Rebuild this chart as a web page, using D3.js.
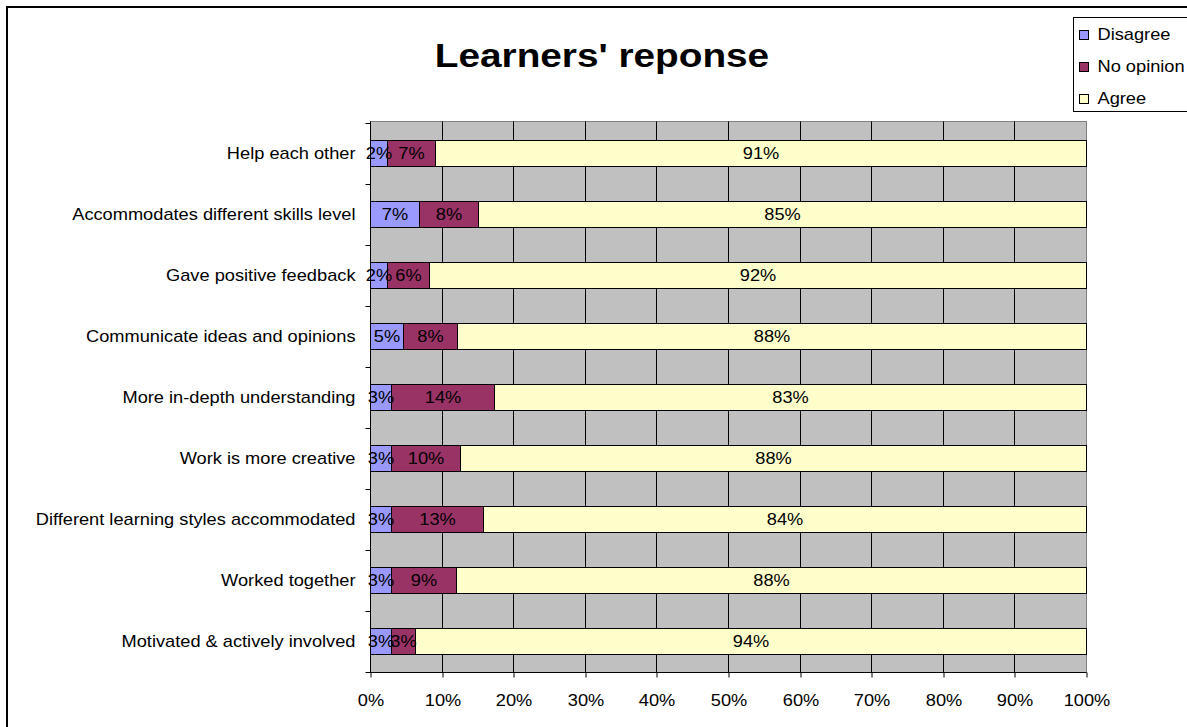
<!DOCTYPE html>
<html>
<head>
<meta charset="utf-8">
<script src="https://cdn.jsdelivr.net/npm/d3@7"></script>
<style>
  html, body { margin: 0; padding: 0; background: #fff; }
  svg { display: block; }
  text { font-family: "Liberation Sans", Arial, sans-serif; fill: #000; }
</style>
</head>
<body>
<svg id="chart" width="1187" height="727"></svg>
<script>
const categories = [
  "Help each other",
  "Accommodates different skills level",
  "Gave positive feedback",
  "Communicate ideas and opinions",
  "More in-depth understanding",
  "Work is more creative",
  "Different learning styles accommodated",
  "Worked together",
  "Motivated & actively involved"
];
const disagree  = [2.4, 6.9, 2.4, 4.6, 2.9, 2.9, 2.9, 2.9, 2.9];
const noOpinion = [6.7, 8.2, 5.8, 7.6, 14.4, 9.6, 12.9, 9.1, 3.4];
const agree     = [90.9, 84.9, 91.8, 87.8, 82.7, 87.5, 84.2, 88.0, 93.7];
const seriesNames = ["Disagree", "No opinion", "Agree"];
const seriesColors = ["#9999FF", "#993366", "#FFFFCC"];
const xTicks = [0, 0.1, 0.2, 0.3, 0.4, 0.5, 0.6, 0.7, 0.8, 0.9, 1.0];
const title = "Learners' reponse";

const SX = 1.14; // horizontal stretch of the text in the reference
const FS = "16px";
const svg = d3.select("#chart");

// outer chart border
svg.append("rect").attr("x", 7).attr("y", 7).attr("width", 1200).attr("height", 760)
  .attr("fill", "#fff").attr("stroke", "#000").attr("stroke-width", 2);

const root = svg.append("g").attr("transform", "translate(0.5,0.5)");

const x = d3.scaleLinear().domain([0, 1]).range([370, 1086]).interpolate(d3.interpolateRound);
const y = d3.scaleBand().domain(categories).range([121, 672])
  .paddingInner(0.575).paddingOuter(0.2875).round(true);
const y0 = y.range()[0], y1 = y.range()[1];

// plot background
root.append("rect").attr("x", x(0)).attr("y", y0).attr("width", x(1) - x(0)).attr("height", y1 - y0)
  .attr("fill", "#C0C0C0").attr("stroke", "#808080");

// vertical gridlines
root.append("g").selectAll("line").data(xTicks.slice(1, -1)).join("line")
  .attr("x1", d => x(d)).attr("x2", d => x(d)).attr("y1", y0).attr("y2", y1)
  .attr("stroke", "#000");

// stacked bars
const rows = categories.map((c, i) => ({cat: c, "Disagree": disagree[i], "No opinion": noOpinion[i], "Agree": agree[i]}));
const stacked = d3.stack().keys(seriesNames).offset(d3.stackOffsetExpand)(rows);

const layers = root.append("g").selectAll("g").data(stacked).join("g")
  .attr("fill", (d, i) => seriesColors[i]);
layers.selectAll("rect").data(d => d).join("rect")
  .attr("x", d => x(d[0])).attr("y", d => y(d.data.cat))
  .attr("width", d => x(d[1]) - x(d[0])).attr("height", y.bandwidth())
  .attr("stroke", "#000").attr("stroke-width", 1);

// data labels
const labelG = root.append("g");
stacked.forEach(layer => {
  layer.forEach(d => {
    const raw = d.data[layer.key];
    const cx = (x(d[0]) + x(d[1])) / 2;
    const cy = y(d.data.cat) + y.bandwidth() / 2;
    labelG.append("text")
      .attr("transform", `translate(${cx},${cy}) scale(${SX},1)`)
      .attr("text-anchor", "middle").attr("dy", "0.36em")
      .style("font-size", FS)
      .text(Math.round(raw) + "%");
  });
});

// axes lines
root.append("line").attr("x1", x(0)).attr("x2", x(0)).attr("y1", y0).attr("y2", y1).attr("stroke", "#000");
root.append("line").attr("x1", x(0)).attr("x2", x(1)).attr("y1", y1).attr("y2", y1).attr("stroke", "#000");

// category tick marks at band boundaries
const boundaries = categories.map(c => y(c) - (y.step() - y.bandwidth()) / 2).concat([y1]);
root.append("g").selectAll("line").data(boundaries).join("line")
  .attr("x1", x(0) - 5).attr("x2", x(0)).attr("y1", d => Math.round(d)).attr("y2", d => Math.round(d))
  .attr("stroke", "#000");

// category labels
root.append("g").selectAll("text").data(categories).join("text")
  .attr("transform", d => `translate(${x(0) - 15},${y(d) + y.bandwidth() / 2}) scale(${SX},1)`)
  .attr("text-anchor", "end").attr("dy", "0.36em")
  .style("font-size", FS)
  .text(d => d);

// x axis ticks and labels
const xAxis = d3.axisBottom(x).tickValues(xTicks).tickFormat(d3.format(".0%")).tickSize(5).tickPadding(17);
const xg = root.append("g").attr("transform", `translate(0,${y1})`).call(xAxis);
xg.select(".domain").remove();
xg.selectAll(".tick line").attr("stroke", "#000");
xg.selectAll(".tick text")
  .attr("transform", `scale(${SX},1)`)
  .style("font-size", FS).style("font-family", "'Liberation Sans', Arial, sans-serif")
  .attr("fill", "#000");

// title
svg.append("text")
  .attr("transform", `translate(602,67) scale(${SX},1)`)
  .attr("text-anchor", "middle")
  .style("font-size", "34px").style("font-weight", "bold")
  .text(title);

// legend
const lg = root.append("g");
lg.append("rect").attr("x", 1073).attr("y", 17).attr("width", 140).attr("height", 94)
  .attr("fill", "#fff").attr("stroke", "#000");
seriesNames.forEach((name, i) => {
  const cy = 34 + i * 32;
  lg.append("rect").attr("x", 1079).attr("y", cy - 4).attr("width", 9).attr("height", 9)
    .attr("fill", seriesColors[i]).attr("stroke", "#000");
  lg.append("text")
    .attr("transform", `translate(1097,${cy}) scale(${SX},1)`)
    .attr("dy", "0.36em")
    .style("font-size", FS)
    .text(name);
});
</script>
</body>
</html>
